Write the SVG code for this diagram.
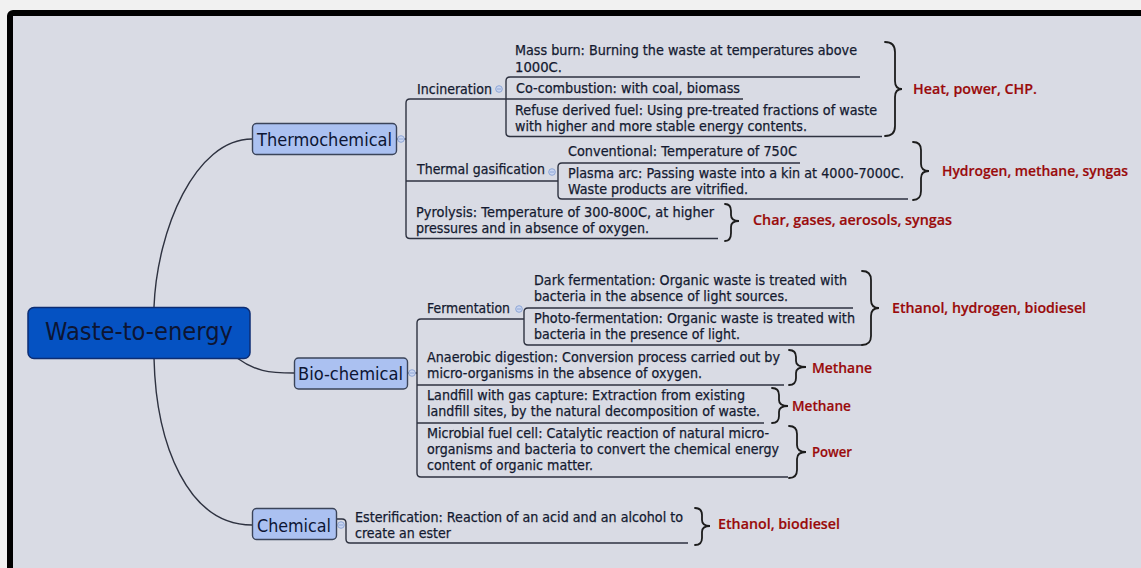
<svg xmlns="http://www.w3.org/2000/svg" width="1141" height="568" viewBox="0 0 1141 568">
<defs>
<style>
.body{font-family:"DejaVu Sans","Liberation Sans",sans-serif;font-size:13.5px;fill:#141a30;stroke:#141a30;stroke-width:0.25}
.res{font-family:"Open Sans","DejaVu Sans",sans-serif;font-size:15px;font-weight:600;fill:#9a0a0a;stroke:#9a0a0a;stroke-width:0.2}
.nt{font-family:"DejaVu Sans","Liberation Sans",sans-serif;font-size:18.5px;fill:#0d1533}
.ln{fill:none;stroke:#2e3240;stroke-width:1.4}
.br{fill:none;stroke:#1c1c1c;stroke-width:1.8;stroke-linecap:round}
.node{fill:#abc1f1;stroke:#3b4459;stroke-width:1.4}
.tog{fill:#c9d5f0;stroke:#8ea6d6;stroke-width:1}
.togm{stroke:#8ea6d6;stroke-width:1}
</style>
</defs>
<rect x="0" y="0" width="1141" height="568" fill="#f1f1f1"/>
<rect x="10" y="13" width="1200" height="700" rx="3" fill="#d9dbe4" stroke="#000" stroke-width="6"/>

<g id="connectors">
  <path class="ln" d="M154,307 C157,230 195,139 252,139"/>
  <path class="ln" d="M237,358 C255,371 268,373 294,373"/>
  <path class="ln" d="M154,358 C156,445 188,525 252,525"/>
  <path class="ln" d="M396,139 H406"/>
  <path class="ln" d="M506,99 H410 Q406,99 406,103 V234.5 Q406,238.5 410,238.5 H718"/>
  <path class="ln" d="M406,181 H558"/>
  <path class="ln" d="M860,77 H510 Q506,77 506,81 V132.5 Q506,136.5 510,136.5 H882"/>
  <path class="ln" d="M506,99 H743"/>
  <path class="ln" d="M800,163 H562 Q558,163 558,167 V195 Q558,199 562,199 H908"/>
  <path class="ln" d="M407,373 H417"/>
  <path class="ln" d="M524,319 H421 Q417,319 417,323 V473 Q417,477 421,477 H788"/>
  <path class="ln" d="M417,385 H784"/>
  <path class="ln" d="M417,423 H764"/>
  <path class="ln" d="M853,308 H528 Q524,308 524,312 V341 Q524,345 528,345 H862"/>
  <path class="ln" d="M336,519 H342 Q346,519 346,523 V539 Q346,543 350,543 H688"/>
  <circle class="tog" cx="401" cy="139" r="3.3"/><path class="togm" d="M399,139 H403"/>
  <circle class="tog" cx="412" cy="373" r="3.3"/><path class="togm" d="M410,373 H414"/>
  <circle class="tog" cx="341" cy="525" r="3.3"/><path class="togm" d="M339,525 H343"/>
  <circle class="tog" cx="499" cy="89" r="3.3"/><path class="togm" d="M497,89 H501"/>
  <circle class="tog" cx="552" cy="172" r="3.3"/><path class="togm" d="M550,172 H554"/>
  <circle class="tog" cx="519" cy="309" r="3.3"/><path class="togm" d="M517,309 H521"/>
  <path class="br" d="M885,42 Q895,42 895,52 L895,81 Q895,89 902,89 Q895,89 895,97 L895,126 Q895,136 885,136"/>
  <path class="br" d="M913,142 Q921,142 921,150 L921,164 Q921,171 929,171 Q921,171 921,178 L921,191 Q921,200 913,200"/>
  <path class="br" d="M725,204 Q731,204 731,211 L731,215 Q731,221 739,221 Q731,221 731,227 L731,233 Q731,241 725,241"/>
  <path class="br" d="M862,271 Q871,271 871,280 L871,300 Q871,308 879,308 Q871,308 871,316 L871,336 Q871,345 862,345"/>
  <path class="br" d="M789,350 Q796,350 796,357 L796,361 Q796,367 806,367 Q796,367 796,373 L796,378 Q796,385 789,385"/>
  <path class="br" d="M772,388 Q779,388 779,395 L779,400 Q779,406 788,406 Q779,406 779,412 L779,416 Q779,423 772,423"/>
  <path class="br" d="M789,426 Q797,426 797,434 L797,445 Q797,452 806,452 Q797,452 797,459 L797,470 Q797,478 789,478"/>
  <path class="br" d="M695,508 Q702,508 702,515 L702,520 Q702,526 710,526 Q702,526 702,532 L702,538 Q702,545 695,545"/>
</g>

<g id="root">
  <rect x="28" y="307.5" width="222" height="51" rx="6" fill="#0552c2" stroke="#0d2d73" stroke-width="1.5"/>
  <text x="45" y="340" class="nt" style="font-size:25px" textLength="188" lengthAdjust="spacingAndGlyphs">Waste-to-energy</text>
</g>
<g id="thermochemical">
  <rect class="node" x="252.5" y="123.5" width="144" height="31" rx="4"/>
  <text x="257" y="146" class="nt" textLength="135" lengthAdjust="spacingAndGlyphs">Thermochemical</text>
</g>
<g id="biochemical">
  <rect class="node" x="294.5" y="358" width="113" height="31" rx="4"/>
  <text x="298" y="380" class="nt" textLength="105" lengthAdjust="spacingAndGlyphs">Bio-chemical</text>
</g>
<g id="chemical">
  <rect class="node" x="252.5" y="508.5" width="84" height="31" rx="4"/>
  <text x="257" y="531.5" class="nt" textLength="74" lengthAdjust="spacingAndGlyphs">Chemical</text>
</g>

<g id="incineration">
  <text x="417" y="93.5" class="body" textLength="75" lengthAdjust="spacingAndGlyphs">Incineration</text>
</g>
<g id="mass-burn">
  <text class="body"><tspan x="515" y="55" textLength="342" lengthAdjust="spacingAndGlyphs">Mass burn: Burning the waste at temperatures above</tspan><tspan x="515" y="71.5" textLength="47" lengthAdjust="spacingAndGlyphs">1000C.</tspan></text>
</g>
<g id="co-combustion">
  <text x="516" y="93" class="body" textLength="224" lengthAdjust="spacingAndGlyphs">Co-combustion: with coal, biomass</text>
</g>
<g id="refuse-derived-fuel">
  <text class="body"><tspan x="515" y="115" textLength="362" lengthAdjust="spacingAndGlyphs">Refuse derived fuel: Using pre-treated fractions of waste</tspan><tspan x="515" y="130.5" textLength="292" lengthAdjust="spacingAndGlyphs">with higher and more stable energy contents.</tspan></text>
</g>
<g id="thermal-gasification">
  <text x="417" y="174" class="body" textLength="128" lengthAdjust="spacingAndGlyphs">Thermal gasification</text>
</g>
<g id="conventional">
  <text x="568" y="155.5" class="body" textLength="229" lengthAdjust="spacingAndGlyphs">Conventional: Temperature of 750C</text>
</g>
<g id="plasma-arc">
  <text class="body"><tspan x="568" y="177.5" textLength="336" lengthAdjust="spacingAndGlyphs">Plasma arc: Passing waste into a kin at 4000-7000C.</tspan><tspan x="568" y="193.5" textLength="180" lengthAdjust="spacingAndGlyphs">Waste products are vitrified.</tspan></text>
</g>
<g id="pyrolysis">
  <text class="body"><tspan x="416" y="217" textLength="298" lengthAdjust="spacingAndGlyphs">Pyrolysis: Temperature of 300-800C, at higher</tspan><tspan x="416" y="233" textLength="233" lengthAdjust="spacingAndGlyphs">pressures and in absence of oxygen.</tspan></text>
</g>

<g id="fermentation">
  <text x="427" y="313" class="body" textLength="83" lengthAdjust="spacingAndGlyphs">Fermentation</text>
</g>
<g id="dark-fermentation">
  <text class="body"><tspan x="534" y="285" textLength="313" lengthAdjust="spacingAndGlyphs">Dark fermentation: Organic waste is treated with</tspan><tspan x="534" y="300.5" textLength="254" lengthAdjust="spacingAndGlyphs">bacteria in the absence of light sources.</tspan></text>
</g>
<g id="photo-fermentation">
  <text class="body"><tspan x="534" y="323" textLength="321" lengthAdjust="spacingAndGlyphs">Photo-fermentation: Organic waste is treated with</tspan><tspan x="534" y="339" textLength="206" lengthAdjust="spacingAndGlyphs">bacteria in the presence of light.</tspan></text>
</g>
<g id="anaerobic-digestion">
  <text class="body"><tspan x="427" y="362" textLength="353" lengthAdjust="spacingAndGlyphs">Anaerobic digestion: Conversion process carried out by</tspan><tspan x="427" y="377.5" textLength="275" lengthAdjust="spacingAndGlyphs">micro-organisms in the absence of oxygen.</tspan></text>
</g>
<g id="landfill">
  <text class="body"><tspan x="427" y="400" textLength="318" lengthAdjust="spacingAndGlyphs">Landfill with gas capture: Extraction from existing</tspan><tspan x="427" y="416" textLength="333" lengthAdjust="spacingAndGlyphs">landfill sites, by the natural decomposition of waste.</tspan></text>
</g>
<g id="microbial-fuel-cell">
  <text class="body"><tspan x="427" y="438" textLength="342" lengthAdjust="spacingAndGlyphs">Microbial fuel cell: Catalytic reaction of natural micro-</tspan><tspan x="427" y="453.5" textLength="352" lengthAdjust="spacingAndGlyphs">organisms and bacteria to convert the chemical energy</tspan><tspan x="427" y="469.5" textLength="166" lengthAdjust="spacingAndGlyphs">content of organic matter.</tspan></text>
</g>
<g id="esterification">
  <text class="body"><tspan x="355" y="521.5" textLength="328" lengthAdjust="spacingAndGlyphs">Esterification: Reaction of an acid and an alcohol to</tspan><tspan x="355" y="537.5" textLength="96" lengthAdjust="spacingAndGlyphs">create an ester</tspan></text>
</g>

<g id="outputs">
  <text x="913" y="94" class="res" textLength="124" lengthAdjust="spacingAndGlyphs">Heat, power, CHP.</text>
  <text x="942" y="176" class="res" textLength="186" lengthAdjust="spacingAndGlyphs">Hydrogen, methane, syngas</text>
  <text x="753" y="225" class="res" textLength="199" lengthAdjust="spacingAndGlyphs">Char, gases, aerosols, syngas</text>
  <text x="892" y="313" class="res" textLength="194" lengthAdjust="spacingAndGlyphs">Ethanol, hydrogen, biodiesel</text>
  <text x="812" y="372.5" class="res" textLength="60" lengthAdjust="spacingAndGlyphs">Methane</text>
  <text x="792" y="411" class="res" textLength="59" lengthAdjust="spacingAndGlyphs">Methane</text>
  <text x="812" y="457" class="res" textLength="40" lengthAdjust="spacingAndGlyphs">Power</text>
  <text x="718" y="529" class="res" textLength="122" lengthAdjust="spacingAndGlyphs">Ethanol, biodiesel</text>
</g>
</svg>
